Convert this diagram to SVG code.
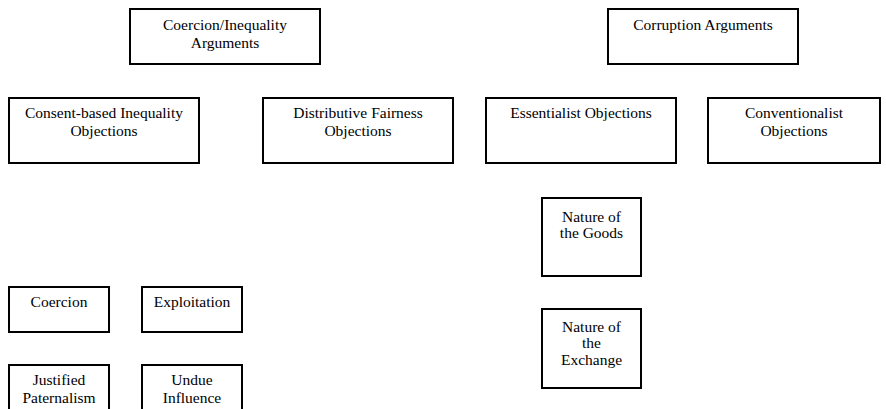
<svg xmlns="http://www.w3.org/2000/svg" width="886" height="409" viewBox="0 0 886 409">
<style>
.box{fill:#fff;stroke:#000;stroke-width:2}
text{font-family:"Liberation Serif","Times New Roman",serif;font-size:15.5px;fill:#000;text-anchor:middle}
</style>
<rect width="886" height="409" fill="#fff"/>
<g id="connectors"></g>
<g id="coercion-inequality"><rect class="box" x="130" y="9" width="190" height="55"/><text x="225" y="30">Coercion/Inequality</text><text x="225" y="48">Arguments</text></g>
<g id="corruption"><rect class="box" x="608" y="9" width="190" height="55"/><text x="703" y="30">Corruption Arguments</text></g>
<g id="consent"><rect class="box" x="9" y="98" width="190" height="65"/><text x="104" y="118">Consent-based Inequality</text><text x="104" y="136">Objections</text></g>
<g id="distributive"><rect class="box" x="263" y="98" width="190" height="65"/><text x="358" y="118">Distributive Fairness</text><text x="358" y="136">Objections</text></g>
<g id="essentialist"><rect class="box" x="486" y="98" width="190" height="65"/><text x="581" y="118">Essentialist Objections</text></g>
<g id="conventionalist"><rect class="box" x="708" y="98" width="172" height="65"/><text x="794" y="118">Conventionalist</text><text x="794" y="136">Objections</text></g>
<g id="nature-goods"><rect class="box" x="542" y="198" width="99" height="78"/><text x="591.5" y="222">Nature of</text><text x="591.5" y="238">the Goods</text></g>
<g id="nature-exchange"><rect class="box" x="542" y="309" width="99" height="79"/><text x="591.5" y="332">Nature of</text><text x="591.5" y="348">the</text><text x="591.5" y="365">Exchange</text></g>
<g id="coercion"><rect class="box" x="9" y="287" width="100" height="45"/><text x="59" y="307">Coercion</text></g>
<g id="exploitation"><rect class="box" x="142" y="287" width="100" height="45"/><text x="192" y="307">Exploitation</text></g>
<g id="justified"><rect class="box" x="9" y="365" width="100" height="50"/><text x="59" y="385">Justified</text><text x="59" y="403">Paternalism</text></g>
<g id="undue"><rect class="box" x="142" y="365" width="100" height="50"/><text x="192" y="385">Undue</text><text x="192" y="403">Influence</text></g>
</svg>
